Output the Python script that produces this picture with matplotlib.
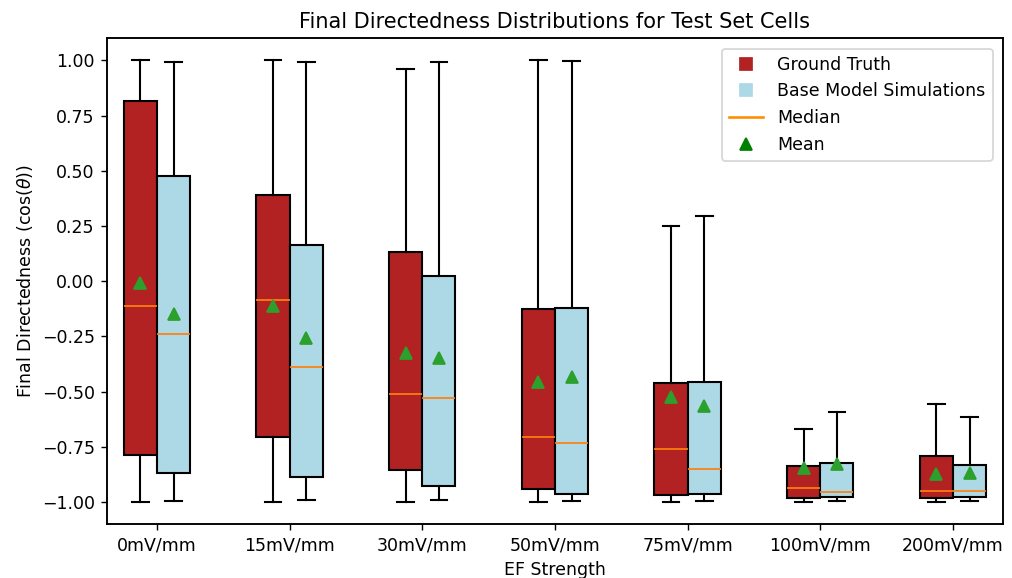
import numpy as np
import matplotlib
matplotlib.use("Agg")
import matplotlib.pyplot as plt
from matplotlib.lines import Line2D

# EF strengths
labels = ["0mV/mm", "15mV/mm", "30mV/mm", "50mV/mm", "75mV/mm", "100mV/mm", "200mV/mm"]

# ground truth box stats
gt_low = [-1.00, -1.00, -1.00, -1.00, -1.00, -1.00, -1.00]
gt_q1 = [-0.787, -0.704, -0.854, -0.940, -0.968, -0.984, -0.984]
gt_med = [-0.114, -0.087, -0.510, -0.707, -0.761, -0.935, -0.949]
gt_q3 = [0.816, 0.392, 0.132, -0.127, -0.460, -0.837, -0.794]
gt_high = [1.00, 1.00, 0.961, 1.00, 0.251, -0.671, -0.558]
gt_mean = [-0.008, -0.114, -0.325, -0.455, -0.523, -0.845, -0.872]

# base model simulations
sim_low = [-0.997, -0.992, -0.992, -0.995, -0.995, -0.998, -0.995]
sim_q1 = [-0.869, -0.887, -0.929, -0.962, -0.965, -0.978, -0.978]
sim_med = [-0.239, -0.391, -0.531, -0.732, -0.851, -0.956, -0.949]
sim_q3 = [0.478, 0.162, 0.022, -0.123, -0.457, -0.824, -0.832]
sim_high = [0.994, 0.994, 0.994, 0.997, 0.295, -0.593, -0.614]
sim_mean = [-0.147, -0.257, -0.347, -0.436, -0.565, -0.827, -0.869]


def make_stats(low, q1, med, q3, high, mean):
    return [dict(whislo=a, q1=b, med=c, q3=d, whishi=e, mean=f, fliers=[])
            for a, b, c, d, e, f in zip(low, q1, med, q3, high, mean)]


fig = plt.figure(figsize=(1013 / 125, 578 / 125), dpi=125)
ax = fig.add_axes([0.1056, 0.0934, 0.8845, 0.8403])

x = np.arange(len(labels))
w = 0.25
lw = 1.2

medprops = dict(color="#ff7f0e", linewidth=1.0)
meanprops = dict(marker="^", markerfacecolor="#2ca02c", markeredgecolor="#2ca02c", markersize=6.5)
line_props = dict(color="black", linewidth=lw)

ax.bxp(make_stats(gt_low, gt_q1, gt_med, gt_q3, gt_high, gt_mean), positions=x - w / 2,
       widths=w, patch_artist=True, showmeans=True, showfliers=False,
       boxprops=dict(facecolor="firebrick", edgecolor="black", linewidth=lw),
       whiskerprops=line_props, capprops=line_props,
       medianprops=medprops, meanprops=meanprops, manage_ticks=False)
ax.bxp(make_stats(sim_low, sim_q1, sim_med, sim_q3, sim_high, sim_mean), positions=x + w / 2,
       widths=w, patch_artist=True, showmeans=True, showfliers=False,
       boxprops=dict(facecolor="lightblue", edgecolor="black", linewidth=lw),
       whiskerprops=line_props, capprops=line_props,
       medianprops=medprops, meanprops=meanprops, manage_ticks=False)

ax.set_xticks(x)
ax.set_xticklabels(labels)
ax.set_xlim(-0.377, 6.377)
ax.set_ylim(-1.1, 1.1)
ax.set_yticks(np.arange(-1.0, 1.01, 0.25))
for s in ax.spines.values():
    s.set_linewidth(1.1)

ax.set_title("Final Directedness Distributions for Test Set Cells")
ax.set_xlabel("EF Strength")
ax.set_ylabel(r"Final Directedness ($\cos(\theta)$)")

handles = [
    Line2D([], [], marker="s", color="firebrick", linestyle="None", markersize=7),
    Line2D([], [], marker="s", color="lightblue", linestyle="None", markersize=7),
    Line2D([], [], color="darkorange", linewidth=1.5),
    Line2D([], [], marker="^", color="green", linestyle="None", markersize=7),
]
ax.legend(handles, ["Ground Truth", "Base Model Simulations", "Median", "Mean"],
          loc="upper right", borderaxespad=0.6)

fig.savefig("out.png", dpi=125)
